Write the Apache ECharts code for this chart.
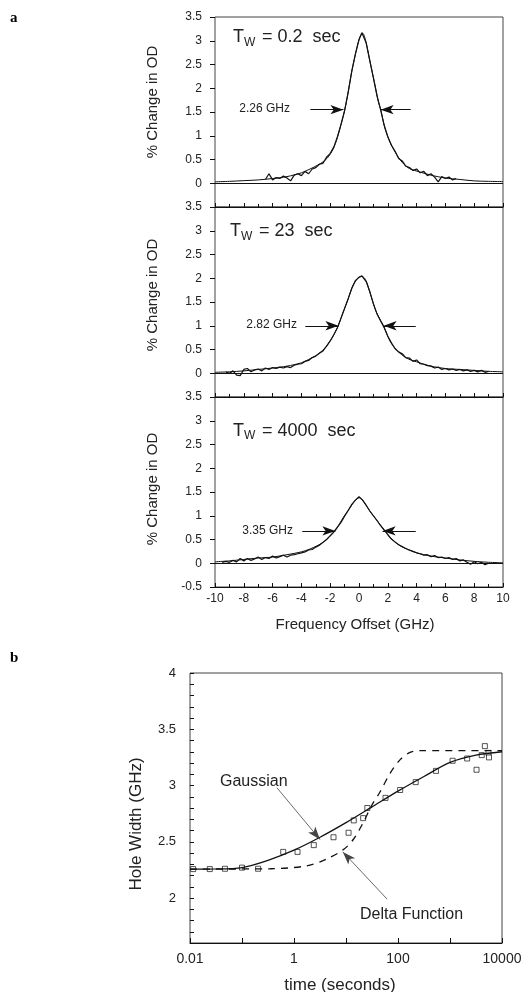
<!DOCTYPE html>
<html>
<head>
<meta charset="utf-8">
<title>Hole burning spectra</title>
<script src="https://cdn.jsdelivr.net/npm/echarts@6/dist/echarts.min.js"></script>
<style>
  html, body { margin: 0; padding: 0; background: #fff; }
  #chart { width: 525px; height: 992px; }
</style>
</head>
<body>
<div id="chart"></div>
<script>
// panel a: hole spectra, [frequency offset GHz, % change in OD]
const fit1 = [[-10,0.03],[-9,0.04],[-8,0.055],[-7,0.07],[-6,0.1],[-5,0.14],[-4,0.22],[-3.4,0.3],[-2.7,0.41],[-2.2,0.53],[-1.8,0.72],[-1.5,0.96],[-1.2,1.29],[-1.0,1.53],[-0.75,1.92],[-0.5,2.36],[-0.15,2.85],[0.05,3.07],[0.25,3.16],[0.45,3.02],[0.75,2.58],[1.1,2.08],[1.35,1.71],[1.5,1.56],[1.8,1.16],[2.15,0.87],[2.5,0.66],[3.0,0.44],[3.5,0.31],[4.2,0.24],[5.0,0.17],[6.0,0.11],[7.0,0.08],[8.0,0.05],[9,0.04],[10,0.035]]
const data1 = [[-6.5,0.08],[-6.25,0.2],[-6.0,0.07],[-5.75,0.12],[-5.5,0.1],[-5.25,0.15],[-5.0,0.11],[-4.75,0.05],[-4.5,0.17],[-4.25,0.2],[-4.0,0.16],[-3.75,0.25],[-3.5,0.2],[-3.25,0.3],[-3.0,0.33],[-2.75,0.4],[-2.5,0.42],[-2.25,0.55],[-2.0,0.63],[-1.75,0.76],[-1.5,0.98],[-1.25,1.24],[-1.0,1.53],[-0.75,1.92],[-0.5,2.36],[-0.25,2.72],[0.0,3.02],[0.2,3.17],[0.3,3.14],[0.5,2.95],[0.75,2.58],[1.0,2.22],[1.25,1.84],[1.5,1.55],[1.75,1.22],[2.0,0.98],[2.25,0.8],[2.5,0.68],[2.75,0.52],[3.0,0.47],[3.25,0.36],[3.5,0.33],[3.75,0.27],[4.0,0.3],[4.25,0.22],[4.5,0.25],[4.75,0.16],[5.0,0.2],[5.25,0.13],[5.5,0.03],[5.75,0.14],[6.0,0.1],[6.25,0.13],[6.5,0.07],[6.75,0.1]]

const fit2 = [[-10,0.02],[-9,0.03],[-8,0.05],[-7,0.08],[-6,0.11],[-5,0.15],[-4,0.22],[-3.5,0.29],[-3,0.37],[-2.4,0.52],[-1.9,0.73],[-1.44,1.0],[-1.1,1.29],[-0.75,1.57],[-0.4,1.86],[-0.05,2.01],[0.2,2.04],[0.45,1.97],[0.75,1.71],[1.2,1.29],[1.7,1.0],[2.15,0.68],[2.6,0.49],[3.3,0.32],[4.0,0.24],[5.0,0.15],[6,0.1],[7,0.08],[8,0.06],[9,0.04],[10,0.03]]
const data2 = [[-9.25,0.03],[-9.0,0.0],[-8.75,0.05],[-8.5,-0.04],[-8.25,-0.05],[-8.0,0.08],[-7.75,0.1],[-7.5,0.03],[-7.25,0.07],[-7.0,0.09],[-6.75,0.05],[-6.5,0.11],[-6.25,0.08],[-6.0,0.12],[-5.75,0.1],[-5.5,0.13],[-5.25,0.11],[-5.0,0.14],[-4.75,0.12],[-4.5,0.17],[-4.25,0.19],[-4.0,0.2],[-3.75,0.25],[-3.5,0.27],[-3.25,0.33],[-3.0,0.36],[-2.75,0.42],[-2.5,0.47],[-2.25,0.57],[-2.0,0.68],[-1.75,0.81],[-1.5,0.96],[-1.25,1.16],[-1.0,1.36],[-0.75,1.57],[-0.5,1.79],[-0.25,1.95],[0.0,2.02],[0.2,2.05],[0.5,1.93],[0.75,1.72],[1.0,1.46],[1.25,1.25],[1.5,1.1],[1.75,0.96],[2.0,0.78],[2.25,0.64],[2.5,0.52],[2.75,0.45],[3.0,0.41],[3.25,0.33],[3.5,0.32],[3.75,0.25],[4.0,0.28],[4.25,0.2],[4.5,0.19],[4.75,0.16],[5.0,0.15],[5.25,0.11],[5.5,0.13],[5.75,0.08],[6.0,0.1],[6.25,0.07],[6.5,0.09],[6.75,0.06],[7.0,0.08],[7.25,0.05],[7.5,0.07],[7.75,0.04],[8.0,0.06],[8.25,0.03],[8.5,0.06],[8.75,0.02],[9.0,0.04]]

const fit3 = [[-10,0.03],[-9,0.05],[-8,0.08],[-7,0.11],[-6,0.13],[-5,0.18],[-4,0.24],[-3.4,0.3],[-2.5,0.44],[-1.67,0.68],[-1.1,0.96],[-0.6,1.18],[-0.3,1.31],[0.02,1.38],[0.3,1.31],[0.75,1.1],[1.35,0.86],[1.8,0.68],[2.4,0.47],[3.1,0.33],[4,0.22],[5,0.15],[6,0.11],[7,0.07],[8,0.04],[9,0.02],[10,0.01]]
const data3 = [[-9.5,0.02],[-9.25,0.04],[-9.0,0.02],[-8.75,0.06],[-8.5,0.03],[-8.25,0.1],[-8.0,0.05],[-7.75,0.1],[-7.5,0.06],[-7.25,0.09],[-7.0,0.13],[-6.75,0.08],[-6.5,0.12],[-6.25,0.1],[-6.0,0.15],[-5.75,0.11],[-5.5,0.14],[-5.25,0.17],[-5.0,0.13],[-4.75,0.17],[-4.5,0.18],[-4.25,0.2],[-4.0,0.22],[-3.75,0.24],[-3.5,0.28],[-3.25,0.29],[-3.0,0.34],[-2.75,0.38],[-2.5,0.44],[-2.25,0.5],[-2.0,0.58],[-1.75,0.66],[-1.5,0.76],[-1.25,0.86],[-1.0,0.99],[-0.75,1.11],[-0.5,1.24],[-0.25,1.33],[0.0,1.4],[0.25,1.33],[0.5,1.22],[0.75,1.1],[1.0,1.0],[1.25,0.9],[1.5,0.79],[1.75,0.7],[2.0,0.6],[2.25,0.51],[2.5,0.45],[2.75,0.39],[3.0,0.35],[3.25,0.31],[3.5,0.28],[3.75,0.25],[4.0,0.22],[4.25,0.2],[4.5,0.17],[4.75,0.18],[5.0,0.14],[5.25,0.16],[5.5,0.12],[5.75,0.13],[6.0,0.1],[6.25,0.12],[6.5,0.08],[6.75,0.1],[7.0,0.05],[7.25,0.07],[7.5,0.02],[7.75,-0.02],[8.0,0.03],[8.25,-0.01],[8.5,0.02],[8.75,-0.03],[9.0,0.0]]

const waitTimes = ['0.2', '23', '4000']
const holeWidths = ['2.26 GHz', '2.82 GHz', '3.35 GHz']
const halfMax = [1.55, 1.0, 0.68]
const arrowsLeft = [[-3.38, -1.08], [-3.73, -1.43], [-3.94, -1.64]]
const arrowsRight = [[3.59, 1.5], [3.94, 1.71], [3.94, 1.64]]

// panel b: [time s, hole width GHz]
const gaussFit = [[0.01,2.257],[0.0316,2.258],[0.1,2.27],[0.316,2.335],[1,2.425],[3.16,2.54],[10,2.67],[31.6,2.81],[100,2.95],[316,3.08],[1000,3.205],[3162,3.27],[10000,3.30]]
const deltaFit = [[0.01,2.257],[0.35,2.26],[1.74,2.285],[4.17,2.345],[8.9,2.43],[13.8,2.52],[21.4,2.67],[30.9,2.82],[44.7,2.94],[70.8,3.11],[110,3.23],[170,3.295],[263,3.31],[10000,3.31]]
const widthPoints = [[0.0115,2.257],[0.024,2.257],[0.047,2.26],[0.1,2.27],[0.204,2.26],[0.62,2.41],[1.17,2.41],[2.4,2.47],[5.75,2.54],[11.2,2.58],[14.1,2.69],[21.4,2.71],[25.7,2.80],[57.5,2.89],[110,2.96],[219,3.03],[537,3.13],[1122,3.22],[2138,3.24],[3236,3.14],[4074,3.27],[4677,3.35],[5495,3.29],[5623,3.25]]

const ink = '#111'
const sans = 'Liberation Sans'
const chart = echarts.init(document.getElementById('chart'))

const gridsA = [17, 207, 397].map(top => ({ left: 215, top: top, width: 288, height: 190, show: true, borderColor: '#444', borderWidth: 1 }))

function xAxisA(i) {
    return {
        type: 'value', gridIndex: i, min: -10, max: 10, interval: 2,
        axisLine: { show: true, onZero: false, lineStyle: { color: ink } },
        axisTick: { inside: true, length: 4, lineStyle: { color: ink } },
        minorTick: { show: true, splitNumber: 2, length: 3, lineStyle: { color: ink } },
        splitLine: { show: false },
        axisLabel: { show: i === 2, color: '#222', fontFamily: sans, fontSize: 12, margin: 6 }
    }
}
function yAxisA(i) {
    return {
        type: 'value', gridIndex: i, min: -0.5, max: 3.5, interval: 0.5,
        position: 'left',
        axisLine: { show: false, onZero: false },
        axisTick: { length: 5, lineStyle: { color: ink } },
        splitLine: { show: false },
        axisLabel: {
            color: '#222', fontFamily: sans, fontSize: 12, margin: 13,
            formatter: v => (i < 2 && v < 0) ? '' : String(v)
        }
    }
}

function panelSeries(i, fit, data) {
    return [
        {
            type: 'line', xAxisIndex: i, yAxisIndex: i, data: fit, smooth: 0.3,
            showSymbol: false, lineStyle: { color: ink, width: 1 }, silent: true,
            markLine: {
                silent: true, symbol: ['none', 'none'], label: { show: false },
                lineStyle: { color: ink, type: 'solid', width: 1 },
                data: [{ yAxis: 0 }]
            }
        },
        {
            type: 'line', xAxisIndex: i, yAxisIndex: i, data: data,
            showSymbol: false, lineStyle: { color: ink, width: 1.2 }, silent: true,
            markLine: {
                silent: true, symbol: ['none', 'arrow'], symbolSize: [7, 13],
                label: { show: false },
                lineStyle: { color: ink, type: 'solid', width: 1 },
                data: [
                    [{ coord: [arrowsLeft[i][0], halfMax[i]] }, { coord: [arrowsLeft[i][1], halfMax[i]] }],
                    [{ coord: [arrowsRight[i][0], halfMax[i]] }, { coord: [arrowsRight[i][1], halfMax[i]] }]
                ]
            }
        }
    ]
}

function txt(x, y, text, size, align) {
    return {
        type: 'text', x: x, y: y, silent: true,
        style: { text: text, font: size + 'px "' + sans + '"', fill: '#222', align: align || 'left', verticalAlign: 'middle' }
    }
}
function vtxt(x, y, text, size) {
    return {
        type: 'text', x: x, y: y, rotation: Math.PI / 2, silent: true,
        style: { text: text, font: size + 'px "' + sans + '"', fill: '#222', align: 'center', verticalAlign: 'middle' }
    }
}

const tw = [
    { t: 233, y: 37.5 },
    { t: 230, y: 231.5 },
    { t: 233, y: 431 }
]
const widthLabel = [{ x: 290, y: 109 }, { x: 297, y: 325 }, { x: 293, y: 531 }]

const graphics = [
    { type: 'text', x: 10, y: 11, silent: true, style: { text: 'a', font: 'bold 15px "Liberation Serif"', fill: '#000' } },
    { type: 'text', x: 10, y: 651, silent: true, style: { text: 'b', font: 'bold 15px "Liberation Serif"', fill: '#000' } },
    vtxt(153, 102, '% Change in OD', 15),
    vtxt(153, 295, '% Change in OD', 15),
    vtxt(153, 489, '% Change in OD', 15),
    txt(355, 625, 'Frequency Offset (GHz)', 15, 'center'),
    vtxt(136, 824, 'Hole Width (GHz)', 17),
    txt(340, 985, 'time (seconds)', 17, 'center'),
    txt(220, 782, 'Gaussian', 16),
    txt(360, 915, 'Delta Function', 16)
]
tw.forEach((p, i) => {
    graphics.push(txt(p.t, p.y, 'T', 18))
    graphics.push(txt(p.t + 11, p.y + 5, 'W', 12))
    graphics.push(txt(p.t + 29, p.y, '= ' + waitTimes[i] + '  sec', 18))
    graphics.push(txt(widthLabel[i].x, widthLabel[i].y, holeWidths[i], 12, 'right'))
})

const option = {
    backgroundColor: '#fff',
    animation: false,
    grid: gridsA.concat([{ left: 190, top: 673, width: 312, height: 270, show: true, borderColor: '#444', borderWidth: 1 }]),
    xAxis: [xAxisA(0), xAxisA(1), xAxisA(2), {
        type: 'log', gridIndex: 3, logBase: 10, min: 0.01, max: 10000, splitNumber: 6,
        axisLine: { show: true, onZero: false, lineStyle: { color: ink } },
        axisTick: { inside: true, length: 5, lineStyle: { color: ink } },
        splitLine: { show: false },
        axisLabel: {
            color: '#222', fontFamily: sans, fontSize: 14, margin: 9,
            formatter: v => {
                const e = Math.round(Math.log10(v))
                if (e % 2 !== 0) return ''
                return e < 0 ? v.toFixed(-e) : String(Math.round(v))
            }
        }
    }],
    yAxis: [yAxisA(0), yAxisA(1), yAxisA(2), {
        type: 'value', gridIndex: 3, min: 1.6, max: 4, interval: 0.1,
        position: 'left',
        axisLine: { show: false, onZero: false },
        axisTick: { inside: true, length: 4, lineStyle: { color: ink } },
        splitLine: { show: false },
        axisLabel: {
            color: '#222', fontFamily: sans, fontSize: 13, margin: 14,
            formatter: v => Math.abs(v * 2 - Math.round(v * 2)) < 1e-6 ? String(Math.round(v * 10) / 10) : ''
        }
    }],
    series: [].concat(
        panelSeries(0, fit1, data1),
        panelSeries(1, fit2, data2),
        panelSeries(2, fit3, data3),
        [
            {
                type: 'line', xAxisIndex: 3, yAxisIndex: 3, data: gaussFit, smooth: 0.3,
                showSymbol: false, lineStyle: { color: ink, width: 1.3 }, silent: true,
                markLine: {
                    silent: true, symbol: ['none', 'arrow'], symbolSize: [7, 13],
                    label: { show: false }, lineStyle: { color: '#444', type: 'solid', width: 0.8 },
                    data: [[{ coord: [0.47, 2.98] }, { coord: [3.16, 2.52] }]]
                }
            },
            {
                type: 'line', xAxisIndex: 3, yAxisIndex: 3, data: deltaFit, smooth: 0.3,
                showSymbol: false, lineStyle: { color: ink, width: 1.3, type: [7, 6] }, silent: true,
                markLine: {
                    silent: true, symbol: ['none', 'arrow'], symbolSize: [7, 13],
                    label: { show: false }, lineStyle: { color: '#444', type: 'solid', width: 0.8 },
                    data: [[{ coord: [61.7, 1.99] }, { coord: [8.7, 2.41] }]]
                }
            },
            {
                type: 'scatter', xAxisIndex: 3, yAxisIndex: 3, data: widthPoints,
                symbol: 'rect', symbolSize: 5, silent: true,
                itemStyle: { color: '#fff', borderColor: ink, borderWidth: 0.9 }
            }
        ]
    ),
    graphic: graphics
}

chart.setOption(option)
</script>
</body>
</html>
